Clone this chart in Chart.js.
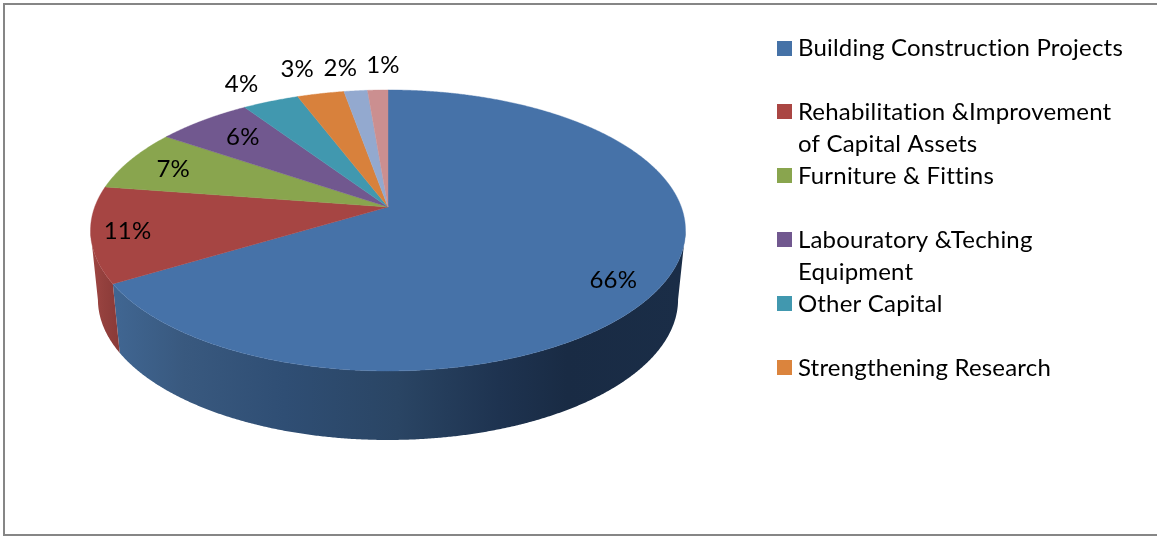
<!DOCTYPE html>
<html>
<head>
<meta charset="utf-8">
<style>html,body{margin:0;padding:0;background:#fff}canvas{display:block}</style>
<script src="https://cdn.jsdelivr.net/npm/chart.js@4"></script>
</head>
<body>
<canvas id="c" width="1157" height="536"></canvas>
<script>
const categories = [
  ["Building Construction Projects"],
  ["Rehabilitation &Improvement", "of Capital Assets"],
  ["Furniture & Fittins"],
  ["Labouratory &Teching", "Equipment"],
  ["Other Capital"],
  ["Strengthening Research"],
  [""],
  [""]
];
const shares = [66.4, 11.0, 7.1, 6.1, 3.6, 3.0, 1.5, 1.3];
const topColors = ["#4672A8", "#A64543", "#89A54E", "#71588F", "#4198AF", "#D8813C", "#93A9CF", "#CB8F90"];
const legendColors = ["#4572A7", "#AA4643", "#89A54E", "#71588F", "#4198AF", "#DB843D"];
const wallColors = ["#2c4a6e", "#8e3c3a", "#5f7336", "#4f3e64", "#2d6a7a", "#98602c", "#66768f", "#8e6465"];
// label placement: radial fraction plus nudge
const labelRadius = [0.85, 0.85, 0.75, 0.72, 1.15, 1.2, 1.2, 1.2];
const labelNudgeX = [-8, -9, -19, -8, -14, -12, -10, 7];
const labelNudgeY = [12, 1, -2, -5, -4, -5, -3, -5];

const FONT = "Lato, Carlito, Calibri, sans-serif";
const persp = {cx: 388, cy: 207, k: 293.3, a: 136.6, c: -0.167, k2: 286, a2: 136.6, drop: 69};

function project(nx, ny, lower) {
  const d = 1 + persp.c * ny;
  if (lower) return [persp.cx + persp.k2 * nx / d, persp.cy + persp.drop + persp.a2 * ny / d];
  return [persp.cx + persp.k * nx / d, persp.cy + persp.a * ny / d];
}
function swatch(color) {
  const s = document.createElement('canvas');
  s.width = 21; s.height = 15;
  const g = s.getContext('2d');
  g.fillStyle = color; g.fillRect(6, 0, 15, 15);
  return s;
}

const pie3d = {
  id: 'pie3d',
  beforeUpdate(chart) { chart.ctx.letterSpacing = '0.2px'; },
  beforeDraw(chart) {
    const ctx = chart.ctx;
    ctx.letterSpacing = '0.2px';
    ctx.save();
    ctx.fillStyle = '#fff';
    ctx.fillRect(0, 0, chart.width, chart.height);
    ctx.fillStyle = '#868686';
    ctx.fillRect(3, 3, chart.width - 3, 2);
    ctx.fillRect(3, 3, 2, chart.height - 3);
    ctx.fillRect(3, 534, chart.width - 3, 2);
    ctx.restore();
  },
  beforeDatasetsDraw(chart) {
    const ctx = chart.ctx;
    const arcs = chart.getDatasetMeta(0).data;
    ctx.save();
    // side wall: only the part in front of the silhouette tangent
    arcs.forEach((arc, i) => {
      const pts = [];
      const steps = Math.max(2, Math.ceil((arc.endAngle - arc.startAngle) / 0.005));
      for (let s = 0; s <= steps; s++) {
        const p = arc.startAngle + (arc.endAngle - arc.startAngle) * s / steps;
        if (Math.sin(p) > -persp.c) pts.push(p);
      }
      if (pts.length < 2) return;
      ctx.beginPath();
      pts.forEach((p, n) => {
        const q = project(Math.cos(p), Math.sin(p), false);
        n ? ctx.lineTo(q[0], q[1]) : ctx.moveTo(q[0], q[1]);
      });
      pts.slice().reverse().forEach(p => {
        const q = project(Math.cos(p), Math.sin(p), true);
        ctx.lineTo(q[0], q[1]);
      });
      ctx.closePath();
      let fill = wallColors[i];
      if (i === 0) {
        fill = ctx.createLinearGradient(115, 0, 680, 0);
        fill.addColorStop(0, '#406692');
        fill.addColorStop(0.12, '#39597F');
        fill.addColorStop(0.3, '#2f4e74');
        fill.addColorStop(0.5, '#2a4564');
        fill.addColorStop(0.68, '#1e3350');
        fill.addColorStop(0.8, '#192b44');
        fill.addColorStop(1, '#1a2d47');
      } else if (i === 1) {
        fill = ctx.createLinearGradient(90, 0, 118, 0);
        fill.addColorStop(0, '#a04643');
        fill.addColorStop(0.5, '#93403d');
        fill.addColorStop(1, '#8a3a38');
      }
      ctx.fillStyle = fill;
      ctx.fill();
    });
    // top face
    arcs.forEach((arc, i) => {
      const steps = Math.max(2, Math.ceil((arc.endAngle - arc.startAngle) / 0.005));
      ctx.beginPath();
      const o = project(0, 0, false);
      ctx.moveTo(o[0], o[1]);
      for (let s = 0; s <= steps; s++) {
        const p = arc.startAngle + (arc.endAngle - arc.startAngle) * s / steps;
        const q = project(Math.cos(p), Math.sin(p), false);
        ctx.lineTo(q[0], q[1]);
      }
      ctx.closePath();
      ctx.fillStyle = topColors[i];
      ctx.fill();
      ctx.strokeStyle = topColors[i];
      ctx.lineWidth = 0.4;
      ctx.stroke();
    });
    // value labels
    const total = shares.reduce((a, b) => a + b, 0);
    ctx.fillStyle = '#000';
    ctx.textAlign = 'center';
    ctx.textBaseline = 'middle';
    ctx.font = '24px ' + FONT;
    arcs.forEach((arc, i) => {
      const mid = (arc.startAngle + arc.endAngle) / 2;
      const r = labelRadius[i];
      const q = project(r * Math.cos(mid), r * Math.sin(mid), false);
      ctx.fillText(Math.round(shares[i] / total * 100) + '%', q[0] + labelNudgeX[i], q[1] + labelNudgeY[i]);
    });
    ctx.restore();
    return false;
  }
};

new Chart(document.getElementById('c'), {
  type: 'pie',
  data: {
    labels: categories,
    datasets: [{data: shares, backgroundColor: topColors, borderWidth: 0}]
  },
  plugins: [pie3d],
  options: {
    responsive: false,
    animation: false,
    layout: {padding: {top: 36, right: 24, bottom: 0, left: 0}},
    plugins: {
      tooltip: {enabled: false},
      legend: {
        display: true,
        position: 'right',
        align: 'start',
        labels: {
          color: '#000',
          padding: 0,
          usePointStyle: true,
          pointStyleWidth: 9,
          font: {family: FONT, size: 24, lineHeight: 1.3333},
          generateLabels() {
            return legendColors.map((color, i) => ({
              text: categories[i].length > 1 ? categories[i] : [categories[i][0], ' '],
              fillStyle: color,
              strokeStyle: color,
              lineWidth: 0,
              pointStyle: swatch(color),
              hidden: false,
              index: i
            }));
          }
        }
      }
    }
  }
});
</script>
</body>
</html>
